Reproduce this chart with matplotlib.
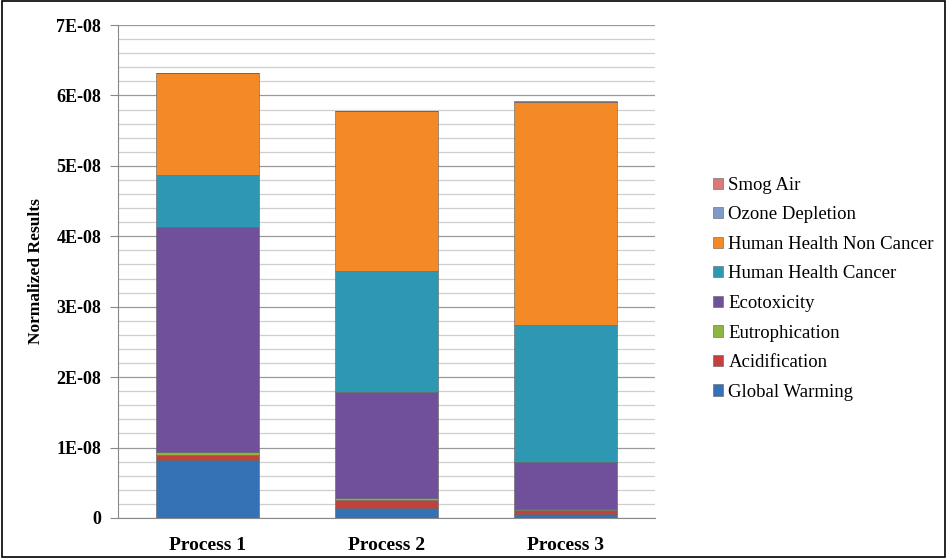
import numpy as np
import matplotlib.pyplot as plt
from matplotlib.ticker import FuncFormatter, MultipleLocator

plt.rcParams['font.family'] = ['Liberation Serif', 'DejaVu Serif']

processes = ['Process 1', 'Process 2', 'Process 3']

# values in units of 1E-09
global_warming = [8.3, 1.4, 0.5]
acidification = [0.7, 1.1, 0.7]
eutrophication = [0.4, 0.4, 0.1]
ecotoxicity = [31.9, 15.0, 6.7]
hh_cancer = [7.4, 17.2, 19.4]
hh_non_cancer = [14.5, 22.7, 31.7]
ozone_depletion = [0.02, 0.02, 0.02]
smog_air = [0.02, 0.02, 0.02]

series = [
    ('Global Warming', global_warming, '#3571B5'),
    ('Acidification', acidification, '#C3403D'),
    ('Eutrophication', eutrophication, '#8DB542'),
    ('Ecotoxicity', ecotoxicity, '#71509B'),
    ('Human Health Cancer', hh_cancer, '#2E97B2'),
    ('Human Health Non Cancer', hh_non_cancer, '#F38A26'),
    ('Ozone Depletion', ozone_depletion, '#7E9BC8'),
    ('Smog Air', smog_air, '#D9797A'),
]

fig = plt.figure(figsize=(9.47, 5.58), dpi=100)
ax = fig.add_axes([118/947, 40/558, (655-118)/947, (518-25)/558])

x = np.arange(len(processes))
bottom = np.zeros(len(processes))
handles = []
for name, vals, col in series:
    v = np.array(vals) * 1e-9
    b = ax.bar(x, v, 0.575, bottom=bottom, color=col, edgecolor='#606060',
               linewidth=0.4, label=name, zorder=3)
    handles.append(b)
    bottom += v

ax.set_xlim(-0.5, 2.5)
ax.set_ylim(0, 7e-8)
ax.yaxis.set_major_locator(MultipleLocator(1e-8))
ax.yaxis.set_minor_locator(MultipleLocator(2e-9))


def fmt(val, pos):
    if val == 0:
        return '0'
    return '%dE-08' % round(val / 1e-8)


ax.yaxis.set_major_formatter(FuncFormatter(fmt))
ax.grid(axis='y', which='major', color='#9a9a9a', linewidth=0.9, zorder=0)
ax.grid(axis='y', which='minor', color='#cfcfcf', linewidth=0.9, zorder=0)
ax.set_xticks(x)
ax.set_xticklabels(processes, fontweight='bold', fontsize=14)
for lab in ax.get_yticklabels():
    lab.set_fontweight('bold')
    lab.set_fontsize(13)
ax.tick_params(axis='x', length=0, pad=14)
ax.tick_params(axis='y', which='major', length=6, direction='out', color='#888888', pad=6)
ax.tick_params(axis='y', which='minor', length=0)
ax.set_ylabel('Normalized Results', fontweight='bold', fontsize=12.5, labelpad=9)

for side in ['top', 'right']:
    ax.spines[side].set_visible(False)
ax.spines['left'].set_color('#888888')
ax.spines['bottom'].set_color('#888888')

leg = ax.legend(handles[::-1], [s[0] for s in series[::-1]],
                loc='center left', bbox_to_anchor=(1.108, 0.465), frameon=False,
                fontsize=13.5, handlelength=0.55, handleheight=0.55,
                handletextpad=0.27, labelspacing=0.67, borderpad=0,
                borderaxespad=0)

# outer frame
fig.patches.append(plt.Rectangle((0.002, 0.002), 0.996, 0.996, transform=fig.transFigure,
                                 fill=False, edgecolor='black', linewidth=1.2))

fig.savefig('out.png', dpi=100)
